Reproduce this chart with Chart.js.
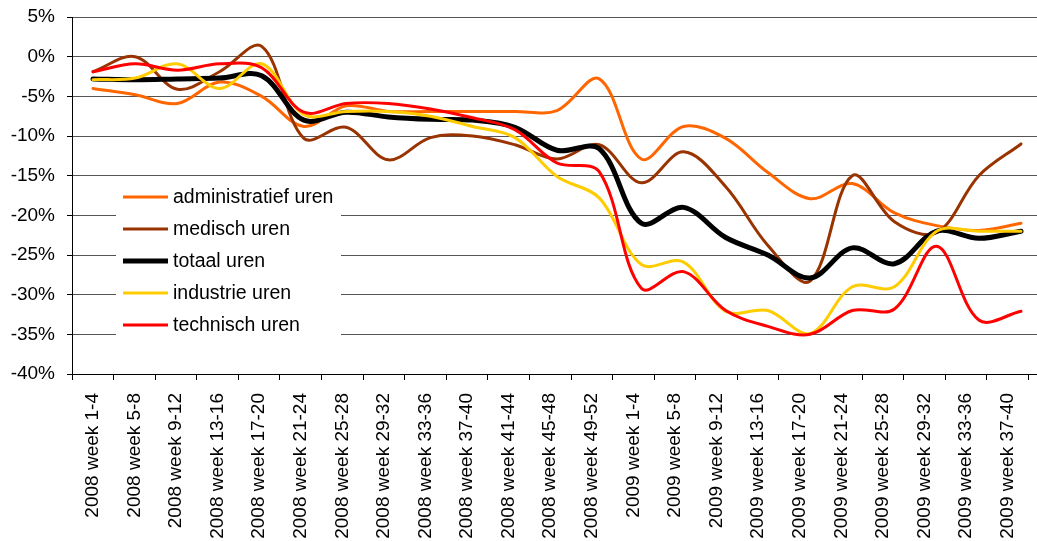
<!DOCTYPE html>
<html><head><meta charset="utf-8">
<script src="https://cdn.jsdelivr.net/npm/chart.js@4/dist/chart.umd.min.js"></script>
<style>html,body{margin:0;padding:0;background:#fff}#wrap{width:1037px;height:541px}</style>
</head><body><div id="wrap"><canvas id="c" width="1037" height="541"></canvas></div>
<script>
const categories = [
  '2008 week 1-4','2008 week 5-8','2008 week 9-12','2008 week 13-16','2008 week 17-20',
  '2008 week 21-24','2008 week 25-28','2008 week 29-32','2008 week 33-36','2008 week 37-40',
  '2008 week 41-44','2008 week 45-48','2008 week 49-52','2009 week 1-4','2009 week 5-8',
  '2009 week 9-12','2009 week 13-16','2009 week 17-20','2009 week 21-24','2009 week 25-28',
  '2009 week 29-32','2009 week 33-36','2009 week 37-40'
];
const administratief = [-4.0,-4.8,-5.9,-3.2,-5.0,-8.8,-6.2,-6.9,-6.9,-6.9,-6.9,-6.8,-2.8,-12.9,-8.8,-10.3,-14.6,-17.9,-16.0,-19.7,-21.3,-21.9,-21.0];
const medisch        = [-1.9,0.0,-4.1,-1.9,1.3,-10.3,-8.9,-13.0,-10.2,-10.0,-11.1,-12.9,-11.1,-15.9,-12.0,-16.4,-23.8,-28.3,-15.0,-20.8,-22.2,-15.0,-11.0];
const totaal         = [-2.8,-2.9,-2.8,-2.7,-2.4,-8.0,-7.0,-7.6,-7.9,-8.0,-8.9,-11.8,-11.6,-21.0,-19.0,-22.8,-25.0,-27.9,-24.1,-26.1,-22.0,-22.9,-22.0];
const industrie      = [-2.9,-2.7,-0.9,-4.0,-0.9,-7.3,-6.9,-6.9,-7.5,-8.8,-10.2,-15.1,-17.8,-26.2,-25.9,-32.1,-32.0,-34.9,-29.0,-29.0,-22.0,-22.0,-22.0];
const technisch      = [-1.9,-0.9,-1.7,-0.9,-1.4,-7.0,-5.9,-5.9,-6.6,-7.7,-9.2,-13.4,-14.5,-29.2,-27.1,-32.0,-34.0,-35.0,-32.0,-31.8,-23.9,-33.2,-32.1];
const seriesNames  = ['administratief uren','medisch uren','totaal uren','industrie uren','technisch uren'];
const seriesData   = [administratief, medisch, totaal, industrie, technisch];
const seriesColors = ['#FF6600','#993300','#000000','#FFCC00','#FF0000'];
const seriesWidths = [3,3,5,3,3];
const yMin = -40, yMax = 5, yStep = 5;

const FONT = '"Liberation Sans", Arial, sans-serif';

const legendBox = {
  id: 'legendBox',
  afterDraw(chart) {
    const ctx = chart.ctx, a = chart.chartArea;
    const x0 = a.left + 44, y0 = a.top + 163, w = 225, h = 160;
    ctx.save();
    ctx.fillStyle = '#fff';
    ctx.fillRect(x0, y0, w, h);
    ctx.font = '19.5px ' + FONT;
    ctx.textBaseline = 'middle';
    chart.data.datasets.forEach((ds, i) => {
      const y = y0 + 17 + 32 * i;
      ctx.strokeStyle = ds.borderColor;
      ctx.lineWidth = ds.borderWidth;
      ctx.beginPath(); ctx.moveTo(x0 + 7, y); ctx.lineTo(x0 + 52, y); ctx.stroke();
      ctx.fillStyle = '#000';
      ctx.fillText(ds.label, x0 + 57, y + 1);
    });
    ctx.restore();
  }
};

new Chart(document.getElementById('c'), {
  type: 'line',
  data: {
    labels: categories,
    datasets: seriesNames.map((n, i) => ({
      label: n,
      data: seriesData[i].map((v, k) => ({ x: k, y: v })),
      xAxisID: 'xd',
      borderColor: seriesColors[i],
      backgroundColor: seriesColors[i],
      borderWidth: seriesWidths[i],
      pointRadius: 0,
      tension: 0.35,
      borderCapStyle: 'round',
      borderJoinStyle: 'round',
      fill: false,
      order: seriesNames.length - i
    }))
  },
  options: {
    responsive: false,
    animation: false,
    devicePixelRatio: 1,
    layout: { padding: { top: 17, right: 0, left: 0, bottom: 0 } },
    plugins: { legend: { display: false }, tooltip: { enabled: false } },
    scales: {
      x: {
        type: 'linear',
        position: 'bottom',
        min: -0.5,
        max: 22.705,
        afterBuildTicks(s) { s.ticks = categories.map((c, i) => ({ value: i })); },
        afterFit(s) { s.height = 167; s.paddingLeft = 0; s.paddingRight = 0; },
        grid: {
          drawOnChartArea: false, offset: true, tickLength: 6, color: '#000',
          tickColor: c => (c.index >= categories.length ? 'rgba(0,0,0,0)' : '#000')
        },
        border: { color: '#000', width: 1 },
        ticks: {
          autoSkip: false, minRotation: 90, maxRotation: 90, padding: 13, color: '#000',
          font: { family: FONT, size: 19 },
          callback: (v, i) => categories[i]
        }
      },
      xd: {
        type: 'linear',
        display: false,
        position: 'bottom',
        min: -0.498,
        max: 22.379,
        afterFit(s) { s.height = 0; s.paddingLeft = 0; s.paddingRight = 0; }
      },
      y: {
        min: yMin, max: yMax,
        afterFit(s) { s.width = 72; s.paddingTop = 0; s.paddingBottom = 0; },
        grid: { color: '#555', tickLength: 5, tickColor: '#000', lineWidth: 1 },
        border: { color: '#000', width: 1 },
        ticks: { stepSize: yStep, padding: 12, color: '#000', font: { family: FONT, size: 19 }, callback: v => v + '%' }
      }
    }
  },
  plugins: [legendBox]
});
</script></body></html>
